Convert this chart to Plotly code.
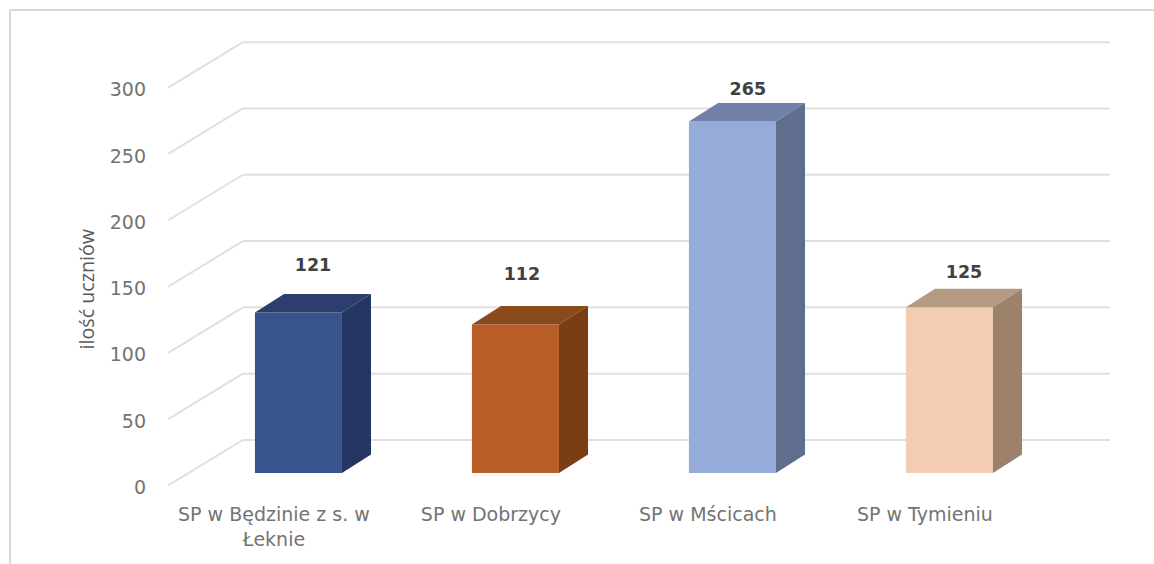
import plotly.graph_objects as go

categories = ["SP w Będzinie z s. w<br>Łeknie", "SP w Dobrzycy", "SP w Mścicach", "SP w Tymieniu"]
values = [121, 112, 265, 125]
axis_ticks = [0, 50, 100, 150, 200, 250, 300]
axis_title = "ilość uczniów"

front_colors = ["#38548D", "#B85E26", "#95ABD9", "#F2CDB1"]
top_colors = ["#2C3E6E", "#8A4A1C", "#7080A8", "#B59A82"]
side_colors = ["#233560", "#7A3D15", "#5F6E8C", "#9C816D"]

# placement of the pseudo-3D box, in axis units
BAR_WIDTH = 0.401
DEPTH_X = 0.134
DEPTH_Y = 14.0
FRONT_Y = -9.4
BACK_Y = 24.9
TICK_LABEL_Y = -10.9
GRID_LEFT_FRONT = -0.6
GRID_LEFT_BACK = -0.256
GRID_RIGHT = 3.74
CAT_LABEL_SHIFT = -0.113
LABEL_DX = [0.067, 0.03, 0.071, 0.067]
LABEL_DY = [35, 37, 23, 25]

positions = list(range(len(values)))
fig = go.Figure()

# front faces
fig.add_trace(go.Bar(x=positions, y=values, width=BAR_WIDTH,
                     marker=dict(color=front_colors, line=dict(width=0)),
                     hoverinfo="y", showlegend=False))

# top and side faces
for p, v, tc, sc in zip(positions, values, top_colors, side_colors):
    l, r = p - BAR_WIDTH / 2, p + BAR_WIDTH / 2
    fig.add_trace(go.Scatter(x=[l, r, r + DEPTH_X, l + DEPTH_X, l],
                             y=[v, v, v + DEPTH_Y, v + DEPTH_Y, v],
                             fill="toself", fillcolor=tc, mode="none",
                             hoverinfo="skip", showlegend=False))
    fig.add_trace(go.Scatter(x=[r, r + DEPTH_X, r + DEPTH_X, r, r],
                             y=[0, DEPTH_Y, v + DEPTH_Y, v, 0],
                             fill="toself", fillcolor=sc, mode="none",
                             hoverinfo="skip", showlegend=False))

# data labels
fig.add_trace(go.Scatter(x=[p + d for p, d in zip(positions, LABEL_DX)],
                         y=[v + d for v, d in zip(values, LABEL_DY)],
                         text=[str(v) for v in values], mode="text",
                         textposition="middle center",
                         textfont=dict(family="DejaVu Sans", size=17.5, color="#404040", weight="bold"),
                         hoverinfo="skip", showlegend=False, cliponaxis=False))

# wall grid lines
GRID = dict(color="#E0E0E0", width=2)
shapes = []
for t in axis_ticks:
    shapes.append(dict(type="line", xref="x", yref="y", layer="below", line=GRID,
                       x0=GRID_LEFT_FRONT, y0=t + FRONT_Y, x1=GRID_LEFT_BACK, y1=t + BACK_Y))
    shapes.append(dict(type="line", xref="x", yref="y", layer="below", line=GRID,
                       x0=GRID_LEFT_BACK, y0=t + BACK_Y, x1=GRID_RIGHT, y1=t + BACK_Y))

# outer frame
W, H = 1154, 564
ML, MR, MT, MB = 150, 34, 20, 64
PW, PH = W - ML - MR, H - MT - MB
fx = lambda px: (px - ML) / PW
fy = lambda py: 1 - (py - MT) / PH
FRAME = dict(color="#D9D9D9", width=2)
shapes.append(dict(type="line", xref="paper", yref="paper", line=FRAME,
                   x0=fx(10), y0=fy(10), x1=fx(1154), y1=fy(10)))
shapes.append(dict(type="line", xref="paper", yref="paper", line=FRAME,
                   x0=fx(10), y0=fy(10), x1=fx(10), y1=fy(564)))

fig.update_layout(
    width=W, height=H,
    margin=dict(l=ML, r=MR, t=MT, b=MB),
    paper_bgcolor="white", plot_bgcolor="white",
    showlegend=False, shapes=shapes,
    xaxis=dict(range=[-0.684, 3.786], tickmode="array",
               tickvals=[p + CAT_LABEL_SHIFT for p in positions], ticktext=categories,
               tickangle=0, showgrid=False, zeroline=False, showline=False, ticks="",
               ticklabelstandoff=1,
               tickfont=dict(family="DejaVu Sans", size=19, color="#737373")),
    yaxis=dict(range=[-20.36, 341.6], tickmode="array",
               tickvals=[t + TICK_LABEL_Y for t in axis_ticks], ticktext=[str(t) for t in axis_ticks],
               showgrid=False, zeroline=False, showline=False, ticks="", ticklabelstandoff=3,
               tickfont=dict(family="DejaVu Sans", size=19, color="#737373")),
    annotations=[dict(text=axis_title, textangle=-90, showarrow=False,
                      xref="paper", yref="paper", x=fx(85.5), y=fy(289),
                      xanchor="center", yanchor="middle",
                      font=dict(family="Open Sans", size=19.7, color="#595959"))],
)

fig.write_html("out.html", config={"displayModeBar": False},
               post_script='document.body.style.margin="0";')
